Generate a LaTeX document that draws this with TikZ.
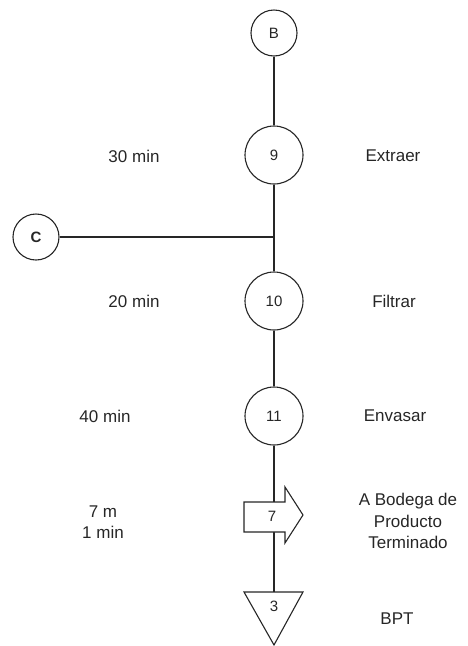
\documentclass[tikz,border=0pt]{standalone}
\usepackage{fontspec}
\setmainfont{Liberation Sans}
\begin{document}
\begin{tikzpicture}[x=1pt,y=-1pt,
  ln/.style={draw=black!85, line width=1.1pt},
  circ/.style={circle, ln, fill=white, inner sep=0pt, font=\fontsize{15}{17}\selectfont, text=black!85},
  inlbl/.style={inner sep=0pt, font=\fontsize{15}{17}\selectfont, text=black!85},
  lbl/.style={font=\fontsize{17}{21.5}\selectfont, text=black!85, align=center, inner sep=0pt}]
\useasboundingbox (0,0) rectangle (467,646);
% circles
\node[circ, minimum size=46pt] (B) at (274,33) {B};
\node[circ, minimum size=58pt] (n9) at (274,155) {9};
\node[circ, minimum size=46pt] (C) at (36,237) {\bfseries C};
\coordinate (J) at (274,237);
\node[circ, minimum size=58pt] (n10) at (274,301) {10};
\node[circ, minimum size=58pt] (n11) at (274,416) {11};
\coordinate (T) at (274,592);
% connectors
\draw[ln] (B) -- (n9);
\draw[ln] (n9) -- (J) -- (n10);
\draw[ln] (C) -- (J);
\draw[ln] (n10) -- (n11);
\draw[ln] (n11) -- (T);
% transport arrow
\draw[ln, fill=white, line join=miter] (244,502) -- (285,502) -- (285,487) -- (303,515) -- (285,543) -- (285,532) -- (244,532) -- cycle;
\node[inlbl] (n7) at (272,516) {7};
% storage triangle
\draw[ln, fill=white, line join=miter] (244,592) -- (303,592) -- (274,645) -- cycle;
\node[inlbl] (n3) at (274,606) {3};
% labels
\node[lbl] (l9) at (134,156) {30 min};
\node[lbl] (r9) at (393,156) {Extraer};
\node[lbl] (l10) at (134,301) {20 min};
\node[lbl] (r10) at (394,301) {Filtrar};
\node[lbl] (l11) at (105,416) {40 min};
\node[lbl] (r11) at (395,416) {Envasar};
\node[lbl] (l7) at (103,522) {7 m\\1 min};
\node[lbl] (r7) at (408,521) {A Bodega de\\Producto\\Terminado};
\node[lbl] (r3) at (397,619) {BPT};
\end{tikzpicture}
\end{document}
